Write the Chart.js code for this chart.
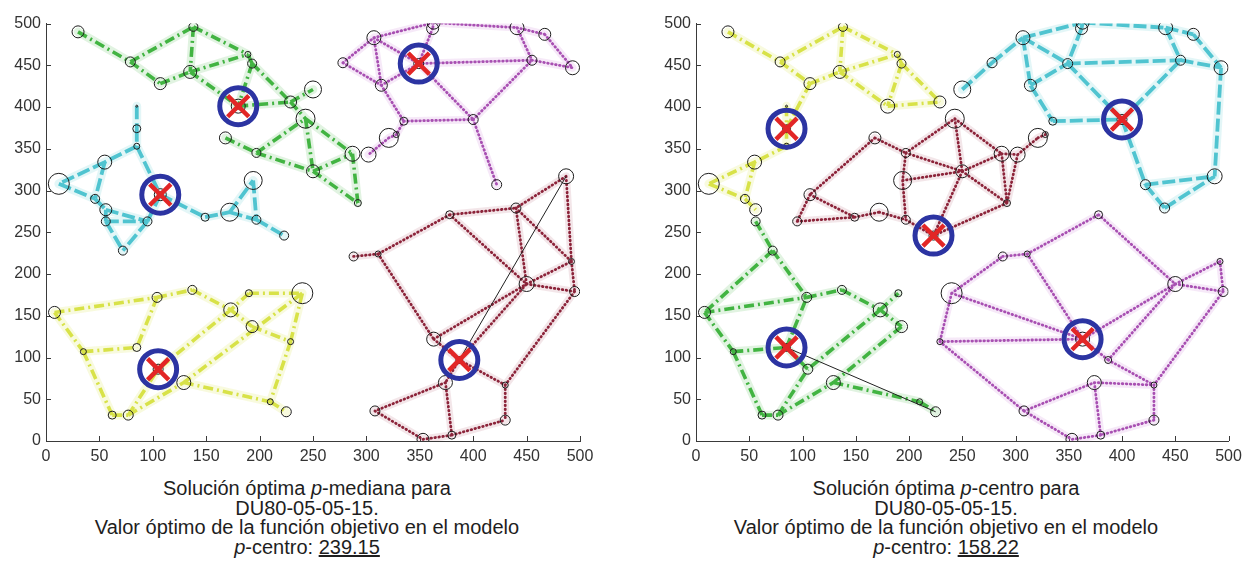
<!DOCTYPE html>
<html>
<head>
<meta charset="utf-8">
<script src="https://cdn.jsdelivr.net/npm/chart.js@4.4.1/dist/chart.umd.min.js"></script>
<style>
  html, body { margin: 0; padding: 0; background: #fff; }
  body { width: 1252px; height: 566px; position: relative; overflow: hidden;
         font-family: "Liberation Sans", Arial, sans-serif; }
  canvas { position: absolute; top: 0; }
  #mediana { left: 0; }
  #centro { left: 650px; }
  .cap { position: absolute; top: 479px; width: 600px; text-align: center;
         font-size: 20px; line-height: 19.7px; color: #1e1e1e; }
  #capA { left: 7px; }
  #capB { left: 646px; }
</style>
</head>
<body>
<canvas id="mediana" width="626" height="470"></canvas>
<canvas id="centro" width="602" height="470"></canvas>
<div class="cap" id="capA">Solución óptima <i>p</i>-mediana para<br>DU80-05-05-15.<br>Valor óptimo de la función objetivo en el modelo<br><i>p</i>-centro: <u>239.15</u></div>
<div class="cap" id="capB">Solución óptima <i>p</i>-centro para<br>DU80-05-05-15.<br>Valor óptimo de la función objetivo en el modelo<br><i>p</i>-centro: <u>158.22</u></div>
<script>
// ---- DU80 instance: 80 demand nodes (ids 1..80) ----
const nodeX = [30,79,138,107,135,189,193,180,229,250, 243,168,197,250,287,302,292,
               85,85,85,55,12,46,56,56,95,107,149,172,194,197,72,223,
               8,104,137,190,240,173,193,229,35,85,105,129,62,77,210,225,
               363,362,441,467,493,455,307,278,349,314,335,400,321,328,422,
               487,440,378,288,311,492,450,495,363,387,374,430,308,430,353,380];
const nodeY = [490,454,496,428,442,463,452,401,406,421, 386,363,345,323,344,343,285,
               401,374,353,334,308,290,277,263,263,295,268,274,312,265,228,246,
               154,172,181,177,177,157,137,119,107,112,86,70,31,31,47,35,
               501,494,495,487,447,456,483,453,452,426,383,385,363,367,307,
               317,279,271,221,224,215,188,179,122,97,70,67,36,25,2,7];
const demand = [6,5,4.5,6,6.5,3,4.5,7,6,8.5, 9.5,6,4.5,6.5,7.5,7.5,3.5,
                1,4,3,7,10.5,4.5,6,4.5,4.5,6,4,9,9,4.5,4.5,4.5,
                6,5,4.5,3.5,10.5,7,6,3,3,4,5,7,4,5,3,5,
                6.5,6,7,6,7,5,7,5,5,6,4,5,9.5,3,5,
                7.5,5,4,4.5,3,3,7.5,5,7,3.5,7,3,5,5,6,4];

// ---- p-mediana solution: medians and assignment network ----
const medianaCenters = [8, 27, 44, 58, 74];
const medianaGreen  = [[1,2],[2,3],[2,4],[4,5],[3,5],[3,6],[5,6],[6,7],[5,8],[7,8],[8,9],[9,10],[7,9],
                       [9,11],[11,14],[12,13],[13,14],[13,11],[11,15],[14,15],[14,17],[15,17]];
const medianaCyan   = [[18,19],[19,20],[20,21],[20,27],[21,22],[21,23],[22,23],[23,24],[24,25],[24,26],
                       [25,26],[25,32],[26,32],[26,27],[27,28],[28,29],[29,30],[30,31],[29,31],[31,33]];
const medianaYellow = [[34,35],[35,36],[36,39],[37,38],[37,39],[39,40],[40,41],[38,41],[41,48],[38,45],
                       [39,44],[35,43],[34,42],[42,43],[42,46],[46,47],[47,44],[47,45],[45,48],[48,49]];
const medianaPurple = [[56,50],[50,51],[50,52],[52,53],[53,54],[52,55],[55,54],[58,55],[57,56],[57,59],
                       [56,59],[56,58],[51,58],[59,58],[59,60],[58,61],[60,61],[61,55],[61,64],[60,63],
                       [63,62],[62,16]];
const medianaRed    = [[65,66],[65,70],[67,66],[67,69],[68,69],[67,71],[66,71],[66,70],[71,70],[71,72],
                       [70,72],[69,73],[73,71],[74,71],[72,76],[74,76],[74,75],[73,74],[75,77],[77,79],
                       [79,80],[80,78],[76,78],[75,80]];
const medianaFarthest = [74, 65];

// ---- p-centro solution ----
const centroCenters = [19, 61, 33, 43, 73];
const centroYellow = [[1,2],[2,3],[2,4],[4,5],[3,5],[3,6],[5,6],[6,7],[5,8],[7,8],[8,9],[7,9],[4,19],
                      [18,19],[19,20],[20,21],[21,22],[21,23],[22,23],[23,24]];
const centroCyan   = [[10,57],[57,56],[56,50],[50,51],[50,52],[52,53],[53,54],[52,55],[55,54],[58,55],
                      [56,59],[56,58],[59,58],[51,58],[58,61],[59,60],[60,61],[61,55],[54,65],[61,64],
                      [64,65],[64,66],[66,65]];
const centroRed    = [[12,27],[12,13],[13,11],[13,14],[13,30],[30,31],[27,26],[26,28],[27,28],[28,29],
                      [29,31],[30,14],[14,15],[15,16],[15,17],[16,17],[11,15],[11,14],[16,62],[62,63],
                      [17,33],[14,33],[31,33],[14,17]];
const centroGreen  = [[25,32],[32,35],[32,34],[34,35],[35,36],[36,39],[39,37],[39,44],[40,45],[39,40],
                      [34,42],[42,43],[43,35],[42,46],[46,47],[47,44],[47,45],[43,44],[45,48],[48,49]];
const centroPurple = [[38,68],[68,69],[69,67],[67,71],[71,70],[70,72],[71,72],[38,41],[38,73],[41,73],
                      [41,77],[69,73],[73,71],[74,71],[73,74],[74,76],[75,76],[72,76],[76,78],[78,80],
                      [80,79],[77,79],[77,75],[75,80]];
const centroFarthest = [43, 49];

const axisTicks = [0,50,100,150,200,250,300,350,400,450,500];

// ---- drawing styles per cluster (line + soft halo) ----
const STYLE = {
  green:  { color: 'rgb(66,180,66)',   halo: 'rgba(66,180,66,0.16)',   width: 3.6, dash: [10,4,2,4], cap: 'butt'  },
  cyan:   { color: 'rgb(80,196,208)',  halo: 'rgba(80,196,208,0.16)',  width: 3.8, dash: [13,4],     cap: 'butt'  },
  yellow: { color: 'rgb(216,226,72)',  halo: 'rgba(216,226,72,0.18)',  width: 3.6, dash: [10,4,2,4], cap: 'butt'  },
  purple: { color: 'rgb(168,80,178)',  halo: 'rgba(200,120,210,0.16)', width: 2.8, dash: [0.6,3.4],  cap: 'round' },
  red:    { color: 'rgb(140,36,58)',   halo: 'rgba(170,80,100,0.14)',  width: 2.8, dash: [0.6,3.4],  cap: 'round' }
};

const pt = id => ({ x: nodeX[id-1], y: nodeY[id-1] });
const GAP = { x: null, y: null };

function edgePoints(edges) {
  const data = [];
  edges.forEach(([a, b]) => { data.push(pt(a), pt(b), { ...GAP }); });
  return data;
}

function edgeDatasets(edges, st) {
  const common = { showLine: true, spanGaps: false, pointRadius: 0, fill: false, tension: 0 };
  return [
    { ...common, data: edgePoints(edges), borderColor: st.halo, borderWidth: st.width + 5,
      borderCapStyle: 'round', order: 3.5 },
    { ...common, data: edgePoints(edges), borderColor: st.color, borderWidth: st.width,
      borderDash: st.dash, borderCapStyle: st.cap, order: 3 }
  ];
}

// inward tick marks on both axes
const inwardTicks = {
  id: 'inwardTicks',
  beforeDatasetsDraw(chart) {
    const { ctx, chartArea: a, scales: { x, y } } = chart;
    ctx.save();
    ctx.strokeStyle = '#3a3a3a';
    ctx.lineWidth = 1;
    ctx.beginPath();
    x.ticks.forEach(t => {
      const px = Math.round(x.getPixelForValue(t.value)) + 0.5;
      ctx.moveTo(px, a.bottom); ctx.lineTo(px, a.bottom - 5);
    });
    y.ticks.forEach(t => {
      const py = Math.round(y.getPixelForValue(t.value)) + 0.5;
      ctx.moveTo(a.left, py); ctx.lineTo(a.left + 5, py);
    });
    ctx.stroke();
    ctx.restore();
  }
};

function makePanel(canvasId, clusters, centers, farthest, leftPad, rightPad) {
  const allNodes = nodeX.map((_, i) => pt(i + 1));
  const datasets = [];
  // demand nodes: circle radius grows with demand
  datasets.push({
    data: allNodes, pointRadius: demand.map(d => d), pointHoverRadius: demand.map(d => d),
    pointBorderColor: '#1c1c1c', pointBorderWidth: 1, pointBackgroundColor: 'rgba(0,0,0,0)',
    showLine: false, order: 2.5
  });
  clusters.forEach(([edges, st]) => datasets.push(...edgeDatasets(edges, st)));
  // link from a center to its farthest assigned node
  datasets.push({
    data: [pt(farthest[0]), pt(farthest[1])], showLine: true, pointRadius: 0,
    borderColor: '#202020', borderWidth: 1, order: 2
  });
  const cpts = centers.map(pt);
  datasets.push({
    data: cpts, showLine: false, pointStyle: 'circle', pointRadius: 18.5, pointHoverRadius: 18.5,
    pointBorderColor: 'rgb(44,52,162)', pointBorderWidth: 5, pointBackgroundColor: 'rgba(0,0,0,0)', order: 1
  });
  datasets.push({
    data: cpts, showLine: false, pointStyle: 'crossRot', pointRadius: 15, pointHoverRadius: 15,
    pointBorderColor: 'rgb(226,38,38)', pointBorderWidth: 4.5, order: 0
  });
  datasets.push({
    data: cpts, showLine: false, pointStyle: 'circle', pointRadius: 3, pointHoverRadius: 3,
    pointBorderColor: 'rgb(170,20,20)', pointBorderWidth: 1, pointBackgroundColor: 'rgb(214,32,32)', order: 0
  });

  const tickFont = { family: '"Liberation Sans", Arial, sans-serif', size: 16 };
  new Chart(document.getElementById(canvasId), {
    type: 'scatter',
    data: { datasets },
    options: {
      responsive: false, animation: false, events: [],
      layout: { padding: { top: 20.5, right: rightPad, left: 0, bottom: 0 } },
      plugins: { legend: { display: false }, tooltip: { enabled: false }, title: { display: false } },
      scales: {
        x: {
          type: 'linear', min: 0, max: 500,
          afterBuildTicks: s => { s.ticks = axisTicks.map(v => ({ value: v })); },
          ticks: { autoSkip: false, maxRotation: 0, padding: 6, color: '#333', font: tickFont },
          grid: { display: false, drawTicks: false },
          border: { display: true, color: '#3a3a3a', width: 1 },
          afterFit: s => { s.height = 29; }
        },
        y: {
          type: 'linear', min: 0, max: 500,
          afterBuildTicks: s => { s.ticks = axisTicks.map(v => ({ value: v })); },
          ticks: { autoSkip: false, padding: 5, color: '#333', font: tickFont },
          grid: { display: false, drawTicks: false },
          border: { display: true, color: '#3a3a3a', width: 1 },
          afterFit: s => { s.width = leftPad; }
        }
      }
    },
    plugins: [inwardTicks]
  });
}

makePanel('mediana', [
  [medianaGreen, STYLE.green], [medianaCyan, STYLE.cyan], [medianaYellow, STYLE.yellow],
  [medianaPurple, STYLE.purple], [medianaRed, STYLE.red]
], medianaCenters, medianaFarthest, 46, 46);

makePanel('centro', [
  [centroYellow, STYLE.yellow], [centroCyan, STYLE.cyan], [centroRed, STYLE.red],
  [centroGreen, STYLE.green], [centroPurple, STYLE.purple]
], centroCenters, centroFarthest, 46, 20);
</script>
</body>
</html>
